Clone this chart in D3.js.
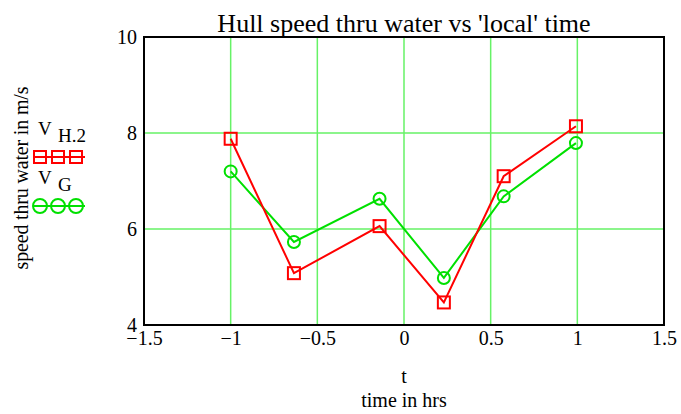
<!DOCTYPE html>
<html>
<head>
<meta charset="utf-8">
<script src="https://cdn.jsdelivr.net/npm/d3@7"></script>
<style>
  body { margin: 0; background: #fff; }
  text { font-family: "Liberation Serif", "Times New Roman", serif; fill: #000; }
</style>
</head>
<body>
<div id="chart"></div>
<script>
// values
var t_hrs = [-1.0, -0.635, -0.141, 0.230, 0.575, 0.992]
var v_h2 = [7.88, 5.08, 6.06, 4.47, 7.10, 8.14]
var v_g = [7.20, 5.73, 6.63, 4.98, 6.68, 7.79]
var x_ticks = [-1.5, -1, -0.5, 0, 0.5, 1, 1.5]
var y_ticks = [4, 6, 8, 10]

var width = 681,
    height = 414,
    margin = { top: 37, right: 17, bottom: 89, left: 144 }

var red = "#ff0000",
    green = "#00e000",
    grid = "#66f266"

var x = d3.scaleLinear()
    .domain([-1.5, 1.5])
    .range([margin.left, width - margin.right])
var y = d3.scaleLinear()
    .domain([4, 10])
    .range([height - margin.bottom, margin.top])

var svg = d3.select("#chart").append("svg")
    .attr("width", width)
    .attr("height", height)

// grid
svg.append("g").selectAll("line")
    .data(x_ticks.slice(1, -1)).enter()
  .append("line")
    .attr("x1", function(d) { return x(d) })
    .attr("x2", function(d) { return x(d) })
    .attr("y1", y(10))
    .attr("y2", y(4))
    .style("stroke", grid)
    .style("stroke-width", 1.5)
svg.append("g").selectAll("line")
    .data(y_ticks.slice(1, -1)).enter()
  .append("line")
    .attr("x1", x(-1.5))
    .attr("x2", x(1.5))
    .attr("y1", function(d) { return y(d) })
    .attr("y2", function(d) { return y(d) })
    .style("stroke", grid)
    .style("stroke-width", 1.5)

// axes (labels only, frame drawn below)
var xAxis = svg.append("g")
    .attr("transform", "translate(0," + y(4) + ")")
    .call(d3.axisBottom(x).tickValues(x_ticks).tickSize(0).tickPadding(6)
      .tickFormat(function(d) { return d3.format("")(d).replace("-", "\u2212") }))
xAxis.select(".domain").remove()
xAxis.selectAll("text")
    .style("font-family", "Liberation Serif")
    .style("font-size", "20px")

var yAxis = svg.append("g")
    .attr("transform", "translate(" + (x(-1.5) - 7) + ",0)")
    .call(d3.axisLeft(y).tickValues(y_ticks).tickSize(0).tickPadding(0)
      .tickFormat(d3.format("d")))
yAxis.select(".domain").remove()
yAxis.selectAll("text")
    .style("font-family", "Liberation Serif")
    .style("font-size", "20px")

// series
var line = d3.line()
    .x(function(d) { return x(d[0]) })
    .y(function(d) { return y(d[1]) })

var h2 = d3.zip(t_hrs, v_h2),
    g = d3.zip(t_hrs, v_g)

svg.append("path")
    .datum(g)
    .attr("d", line)
    .style("fill", "none")
    .style("stroke", green)
    .style("stroke-width", 2)
svg.append("path")
    .datum(h2)
    .attr("d", line)
    .style("fill", "none")
    .style("stroke", red)
    .style("stroke-width", 2)

svg.selectAll("circle.g")
    .data(g).enter()
  .append("circle")
    .attr("cx", function(d) { return x(d[0]) })
    .attr("cy", function(d) { return y(d[1]) })
    .attr("r", 6)
    .style("fill", "none")
    .style("stroke", green)
    .style("stroke-width", 2)
svg.selectAll("rect.h2")
    .data(h2).enter()
  .append("rect")
    .attr("x", function(d) { return x(d[0]) - 6 })
    .attr("y", function(d) { return y(d[1]) - 6 })
    .attr("width", 12)
    .attr("height", 12)
    .style("fill", "none")
    .style("stroke", red)
    .style("stroke-width", 2)

// frame
svg.append("rect")
    .attr("x", x(-1.5))
    .attr("y", y(10))
    .attr("width", x(1.5) - x(-1.5))
    .attr("height", y(4) - y(10))
    .style("fill", "none")
    .style("stroke", "#000")
    .style("stroke-width", 2)

// titles
svg.append("text")
    .attr("x", (x(-1.5) + x(1.5)) / 2)
    .attr("y", 32)
    .attr("text-anchor", "middle")
    .style("font-size", "26px")
    .text("Hull speed thru water vs 'local' time")

svg.append("text")
    .attr("x", 404)
    .attr("y", 383)
    .attr("text-anchor", "middle")
    .style("font-size", "20px")
    .text("t")
svg.append("text")
    .attr("x", 404)
    .attr("y", 407)
    .attr("text-anchor", "middle")
    .style("font-size", "20px")
    .text("time in hrs")

svg.append("text")
    .attr("transform", "translate(28,178) rotate(-90)")
    .attr("text-anchor", "middle")
    .attr("textLength", 183)
    .attr("lengthAdjust", "spacing")
    .style("font-size", "20px")
    .text("speed thru water in m/s")

// legend
var legend = [
  { name: "V", sub: "H.2", color: red, mark: "square", y: 157 },
  { name: "V", sub: "G", color: green, mark: "circle", y: 206 }
]
var lg = svg.selectAll("g.legend")
    .data(legend).enter()
  .append("g")
    .attr("transform", function(d) { return "translate(0," + d.y + ")" })

lg.append("text")
    .attr("x", 38)
    .attr("y", -22)
    .style("font-size", "19px")
    .text(function(d) { return d.name })
lg.append("text")
    .attr("x", 58)
    .attr("y", -15)
    .style("font-size", "19px")
    .text(function(d) { return d.sub })
lg.append("line")
    .attr("x1", 33)
    .attr("x2", 85)
    .style("stroke", function(d) { return d.color })
    .style("stroke-width", 2)

lg.each(function(d) {
  var sel = d3.select(this)
  ;[40, 58, 76].forEach(function(cx) {
    if (d.mark == "square") {
      sel.append("rect")
          .attr("x", cx - 6).attr("y", -6)
          .attr("width", 12).attr("height", 12)
          .style("fill", "none")
          .style("stroke", d.color)
          .style("stroke-width", 2)
    } else {
      sel.append("circle")
          .attr("cx", cx).attr("r", 7)
          .style("fill", "none")
          .style("stroke", d.color)
          .style("stroke-width", 2)
    }
  })
})
</script>
</body>
</html>
